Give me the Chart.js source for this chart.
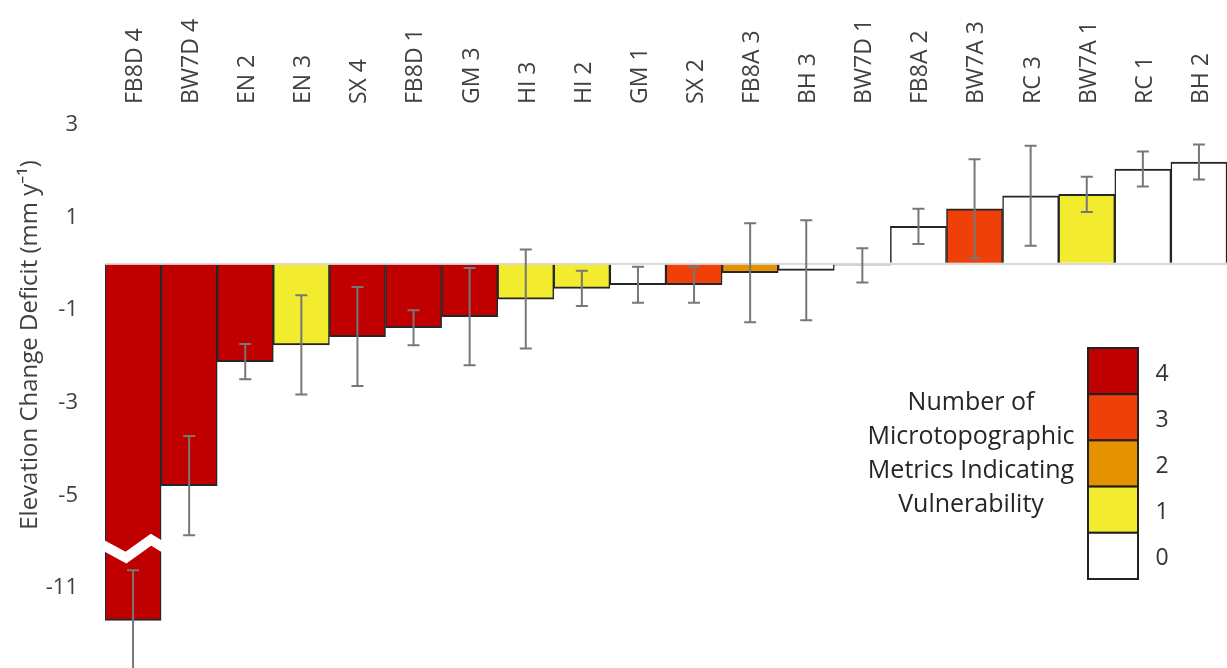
<!DOCTYPE html>
<html>
<head>
<meta charset="utf-8">
<script src="https://cdn.jsdelivr.net/npm/chart.js@4.4.1/dist/chart.umd.min.js"></script>
<style>
  html, body { margin: 0; padding: 0; background: #fff; }
  #wrap { width: 1227px; height: 668px; }
</style>
</head>
<body>
<div id="wrap"><canvas id="deficitChart" width="1227" height="668"></canvas></div>
<script>
// sites, ordered by deficit
const sites = ["FB8D 4", "BW7D 4", "EN 2", "EN 3", "SX 4", "FB8D 1", "GM 3", "HI 3", "HI 2", "GM 1",
               "SX 2", "FB8A 3", "BH 3", "BW7D 1", "FB8A 2", "BW7A 3", "RC 3", "BW7A 1", "RC 1", "BH 2"];
const deficit = [-11.7, -4.79, -2.11, -1.75, -1.57, -1.38, -1.14, -0.76, -0.53, -0.45,
                 -0.45, -0.19, -0.14, -0.03, 0.81, 1.19, 1.47, 1.50, 2.05, 2.20];
const errors = [1.08, 1.07, 0.38, 1.07, 1.07, 0.38, 1.05, 1.07, 0.38, 0.39,
                0.39, 1.07, 1.08, 0.37, 0.38, 1.07, 1.08, 0.38, 0.38, 0.38];
const metricCount = [4, 4, 4, 1, 4, 4, 4, 1, 1, 0, 3, 2, 0, 0, 0, 3, 0, 1, 0, 0];

// colour per number of metrics (index = count)
const countColors = ["#ffffff", "#f3eb2e", "#e59200", "#f0400a", "#c00000"];
const legendLevels = [4, 3, 2, 1, 0];
const legendTitle = ["Number of", "Microtopographic", "Metrics Indicating", "Vulnerability"];

const tickValues = [3, 1, 0, -1, -3, -5, -11];

// broken axis: everything below breakAt is shifted up by breakGap
const breakAt = -6;
const breakGap = 4;
function plotValue(v) {
    return v < breakAt ? v + breakGap : v;
}

const FONT = "'Open Sans', 'Noto Sans', sans-serif";
const TEXT = "#404040";

const errorBars = {
    id: "errorBars",
    afterDatasetsDraw(chart) {
        const ctx = chart.ctx;
        const y = chart.scales.y;
        const meta = chart.getDatasetMeta(0);

        // white zigzag where the first bar is broken
        const bar = meta.data[0];
        const x0 = bar.x - bar.width / 2;
        const x1 = bar.x + bar.width / 2;
        const yb = y.getPixelForValue(breakAt);
        ctx.save();
        ctx.strokeStyle = "#ffffff";
        ctx.lineWidth = 10;
        ctx.lineJoin = "miter";
        ctx.beginPath();
        ctx.moveTo(x0 - 3, yb + 3);
        ctx.lineTo(x0 + 21, yb + 16);
        ctx.lineTo(x0 + 46, yb - 2);
        ctx.lineTo(x1 + 3, yb + 6);
        ctx.stroke();
        ctx.restore();

        ctx.save();
        ctx.strokeStyle = "#777777";
        ctx.lineWidth = 2;
        for (let i = 0; i < deficit.length; i++) {
            const x = meta.data[i].x;
            const yHi = y.getPixelForValue(plotValue(deficit[i] + errors[i]));
            const yLo = y.getPixelForValue(plotValue(deficit[i] - errors[i]));
            ctx.beginPath();
            ctx.moveTo(x, yHi);
            ctx.lineTo(x, yLo);
            ctx.moveTo(x - 6, yHi);
            ctx.lineTo(x + 6, yHi);
            ctx.moveTo(x - 6, yLo);
            ctx.lineTo(x + 6, yLo);
            ctx.stroke();
        }
        ctx.restore();
    },
    afterDraw(chart) {
        const ctx = chart.ctx;
        ctx.save();

        // y axis title
        ctx.translate(30, 345);
        ctx.rotate(-Math.PI / 2);
        ctx.fillStyle = TEXT;
        ctx.font = "24px " + FONT;
        ctx.textAlign = "center";
        ctx.textBaseline = "middle";
        ctx.fillText("Elevation Change Deficit (mm y\u207B\u00B9)", 0, 0);
        ctx.restore();

        // colour key
        ctx.save();
        const bx = 1088, by = 348, bw = 50, bh = 46.2;
        for (let i = 0; i < legendLevels.length; i++) {
            ctx.fillStyle = countColors[legendLevels[i]];
            ctx.fillRect(bx, by + i * bh, bw, bh);
            ctx.strokeStyle = "#222222";
            ctx.lineWidth = 2;
            ctx.strokeRect(bx, by + i * bh, bw, bh);
            ctx.fillStyle = "#333333";
            ctx.font = "23px " + FONT;
            ctx.textAlign = "center";
            ctx.textBaseline = "middle";
            ctx.fillText(String(legendLevels[i]), 1162, by + i * bh + bh / 2 + 3);
        }
        ctx.fillStyle = "#262626";
        ctx.font = "25px " + FONT;
        ctx.textAlign = "center";
        ctx.textBaseline = "middle";
        for (let i = 0; i < legendTitle.length; i++) {
            ctx.fillText(legendTitle[i], 971, 403 + i * 34);
        }
        ctx.restore();
    }
};

const canvas = document.getElementById("deficitChart");
const chart = new Chart(canvas.getContext("2d"), {
    type: "bar",
    data: {
        labels: sites,
        datasets: [{
            data: deficit.map(plotValue),
            backgroundColor: metricCount.map(c => countColors[c]),
            borderColor: "#262626",
            borderWidth: { top: 2, bottom: 2, left: 1.5, right: 1.5 },
            barPercentage: 1,
            categoryPercentage: 1
        }]
    },
    options: {
        responsive: false,
        animation: false,
        devicePixelRatio: 1,
        layout: { padding: { left: 0, right: -3, top: 0, bottom: 0 } },
        plugins: {
            legend: { display: false },
            tooltip: { enabled: false }
        },
        scales: {
            x: {
                position: "top",
                grid: { display: false },
                border: { display: false },
                ticks: {
                    autoSkip: false,
                    minRotation: 90,
                    maxRotation: 90,
                    padding: 13,
                    labelOffset: 30,
                    color: TEXT,
                    font: { family: FONT, size: 23 }
                },
                afterFit(scale) {
                    scale.height = 125;
                }
            },
            y: {
                min: -8.73,
                max: 3,
                grid: {
                    drawTicks: false,
                    lineWidth: 2,
                    color: ctx => (ctx.tick && ctx.tick.value === 0) ? "#d9d9d9" : "rgba(0,0,0,0)"
                },
                border: { display: false },
                afterBuildTicks(scale) {
                    scale.ticks = tickValues.map(v => ({ value: plotValue(v) }));
                },
                ticks: {
                    padding: 27,
                    color: TEXT,
                    font: { family: FONT, size: 22 },
                    callback: (value, index) => tickValues[index] === 0 ? "" : String(tickValues[index])
                },
                afterFit(scale) {
                    scale.width = 105;
                    scale.paddingTop = 0;
                    scale.paddingBottom = 0;
                }
            }
        }
    },
    plugins: [errorBars]
});
</script>
</body>
</html>
